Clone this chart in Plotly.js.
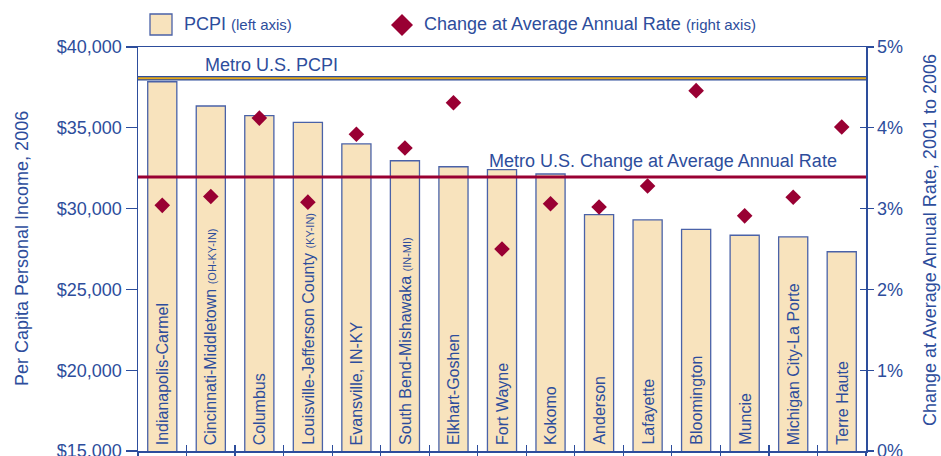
<!DOCTYPE html>
<html>
<head>
<meta charset="utf-8">
<script src="https://cdn.plot.ly/plotly-3.0.1.min.js"></script>
<style>html,body{margin:0;padding:0;background:#fff;}#chart{width:941px;height:456px;}</style>
</head>
<body>
<div id="chart"></div>
<script>
// ---- data ----
const metros = ["Indianapolis-Carmel", "Cincinnati-Middletown", "Columbus", "Louisville-Jefferson County",
  "Evansville, IN-KY", "South Bend-Mishawaka", "Elkhart-Goshen", "Fort Wayne", "Kokomo", "Anderson",
  "Lafayette", "Bloomington", "Muncie", "Michigan City-La Porte", "Terre Haute"];
const metroStates = ["", "(OH-KY-IN)", "", "(KY-IN)", "", "(IN-MI)", "", "", "", "", "", "", "", "", ""];
const pcpi2006 = [37850, 36350, 35750, 35330, 34000, 32960, 32590, 32410, 32140, 29630, 29300, 28720, 28350, 28250, 27330];
const annualRate = [3.04, 3.15, 4.12, 3.08, 3.92, 3.75, 4.31, 2.50, 3.06, 3.02, 3.28, 4.46, 2.91, 3.14, 4.01];
const metroUSPCPI = 38070;
const metroUSRate = 3.39;
const yLeftTicks = [15000, 20000, 25000, 30000, 35000, 40000];
const yLeftTickText = ["$15,000", "$20,000", "$25,000", "$30,000", "$35,000", "$40,000"];
const yRightTicks = [0, 1, 2, 3, 4, 5];
const yRightTickText = ["0%", "1%", "2%", "3%", "4%", "5%"];

// ---- style ----
const BLUE = '#2d4d9c';
const FONT = 'Liberation Sans, Arial, Helvetica, sans-serif';
const BAR_FILL = '#f8e3bd';
const BAR_LINE = '#4a62a8';
const RED = '#990033';
const GOLD = '#e3a81b';

const bars = {
  type: 'bar', x: metros, y: pcpi2006, xaxis: 'x', yaxis: 'y', width: 0.6,
  marker: {color: BAR_FILL, line: {color: BAR_LINE, width: 1.3}},
  hoverinfo: 'x+y', showlegend: false
};
const rates = {
  type: 'scatter', mode: 'markers', x: metros, y: annualRate, xaxis: 'x', yaxis: 'y2',
  marker: {symbol: 'diamond', size: 12, color: RED},
  showlegend: false
};
// invisible helpers so the overlay tick axes are drawn
const helperX2 = {type: 'scatter', mode: 'markers', x: metros, y: metros.map(() => null), xaxis: 'x2', yaxis: 'y', showlegend: false, hoverinfo: 'skip'};
const helperY3 = {type: 'scatter', mode: 'markers', x: metros, y: metros.map(() => null), xaxis: 'x', yaxis: 'y3', showlegend: false, hoverinfo: 'skip'};

const annotations = [];
metros.forEach((m, i) => {
  const txt = metroStates[i] ? m + ' <span style="font-size:11px">' + metroStates[i] + '</span>' : m;
  annotations.push({
    x: m, y: 15000, xref: 'x', yref: 'y', text: txt, textangle: -90,
    showarrow: false, xanchor: 'center', yanchor: 'bottom', yshift: 4,
    font: {family: FONT, size: 16, color: BLUE}
  });
});
annotations.push({
  xref: 'paper', yref: 'y', x: (203 - 138) / 728, y: metroUSPCPI, xanchor: 'left', yanchor: 'bottom', yshift: 1,
  text: 'Metro U.S. PCPI', showarrow: false, font: {family: FONT, size: 18, color: BLUE}
});
annotations.push({
  xref: 'paper', yref: 'y2', x: (487 - 138) / 728, y: metroUSRate, xanchor: 'left', yanchor: 'bottom', yshift: 4,
  text: 'Metro U.S. Change at Average Annual Rate', showarrow: false, font: {family: FONT, size: 18, color: BLUE}
});
// legend texts
annotations.push({
  xref: 'paper', yref: 'paper', x: 0, y: 1, xshift: 44, yshift: 23, xanchor: 'left', yanchor: 'middle',
  text: 'PCPI <span style="font-size:15px">(left axis)</span>', showarrow: false,
  font: {family: FONT, size: 18, color: BLUE}
});
annotations.push({
  xref: 'paper', yref: 'paper', x: 0, y: 1, xshift: 284, yshift: 23, xanchor: 'left', yanchor: 'middle',
  text: 'Change at Average Annual Rate <span style="font-size:15px">(right axis)</span>', showarrow: false,
  font: {family: FONT, size: 18, color: BLUE}
});
// axis titles
annotations.push({
  xref: 'paper', yref: 'paper', x: 0, y: 0.5, xshift: -116, xanchor: 'center', yanchor: 'middle', textangle: -90,
  text: 'Per Capita Personal Income, 2006', showarrow: false, font: {family: FONT, size: 18, color: BLUE}
});
annotations.push({
  xref: 'paper', yref: 'paper', x: 1, y: (451 - 240) / 404, xshift: 64, xanchor: 'center', yanchor: 'middle', textangle: -90,
  text: 'Change at Average Annual Rate, 2001 to 2006', showarrow: false, font: {family: FONT, size: 18, color: BLUE}
});

const shapes = [
  {type: 'line', xref: 'paper', yref: 'y', x0: 0, x1: 1, y0: metroUSPCPI, y1: metroUSPCPI, line: {color: BLUE, width: 4.5}},
  {type: 'line', xref: 'paper', yref: 'y', x0: 0, x1: 1, y0: metroUSPCPI, y1: metroUSPCPI, line: {color: GOLD, width: 2}},
  {type: 'line', xref: 'paper', yref: 'y2', x0: 0, x1: 1, y0: metroUSRate, y1: metroUSRate, line: {color: RED, width: 3}},
  // legend swatch
  {type: 'rect', xref: 'paper', yref: 'paper', xsizemode: 'pixel', ysizemode: 'pixel', xanchor: 0, yanchor: 1,
   x0: 12, x1: 34, y0: 12, y1: 33, fillcolor: BAR_FILL, line: {color: BAR_LINE, width: 1.3}},
  // legend diamond
  {type: 'path', xref: 'paper', yref: 'paper', xsizemode: 'pixel', ysizemode: 'pixel', xanchor: 0, yanchor: 1,
   path: 'M253,22 L264,33 L275,22 L264,11 Z', fillcolor: RED, line: {color: RED, width: 0}}
];

const layout = {
  width: 941, height: 456,
  margin: {l: 138, r: 75, t: 47, b: 5},
  paper_bgcolor: '#fff', plot_bgcolor: '#fff',
  font: {family: FONT, size: 18, color: BLUE},
  showlegend: false,
  bargap: 0.4,
  xaxis: {
    type: 'category', range: [-0.5, 14.5], tickson: 'boundaries', ticks: 'outside', ticklen: 6,
    tickcolor: BLUE, tickwidth: 1.2, showticklabels: false, showline: true, linecolor: BLUE, linewidth: 1.5,
    mirror: true, showgrid: false, zeroline: false, fixedrange: true
  },
  xaxis2: {
    type: 'category', overlaying: 'x', anchor: 'y', range: [-0.5, 14.5], tickson: 'boundaries', ticks: 'inside', ticklen: 6,
    tickcolor: BLUE, tickwidth: 1.2, showticklabels: false, showline: false, showgrid: false, zeroline: false
  },
  yaxis: {
    range: [15000, 40000], tickmode: 'array', tickvals: yLeftTicks, ticktext: yLeftTickText,
    ticklabeloverflow: 'allow',
    ticks: 'outside', ticklen: 11, tickcolor: BLUE, tickwidth: 1.2,
    showline: true, linecolor: BLUE, linewidth: 1.5, showgrid: false, zeroline: false,
    tickfont: {family: FONT, size: 18, color: BLUE}
  },
  yaxis2: {
    range: [0, 5], overlaying: 'y', side: 'right', anchor: 'x', tickmode: 'array', tickvals: yRightTicks, ticktext: yRightTickText,
    ticklabeloverflow: 'allow',
    ticks: 'outside', ticklen: 6, tickcolor: BLUE, tickwidth: 1.2,
    showline: true, linecolor: BLUE, linewidth: 1.5, showgrid: false, zeroline: false,
    tickfont: {family: FONT, size: 18, color: BLUE}
  },
  yaxis3: {
    range: [0, 5], overlaying: 'y', side: 'right', anchor: 'x', tickmode: 'array', tickvals: yRightTicks,
    ticks: 'inside', ticklen: 6, tickcolor: BLUE, tickwidth: 1.2, showticklabels: false,
    showline: false, showgrid: false, zeroline: false
  },
  annotations: annotations,
  shapes: shapes
};

Plotly.newPlot('chart', [bars, helperX2, helperY3, rates], layout, {displayModeBar: false, staticPlot: true});
</script>
</body>
</html>
